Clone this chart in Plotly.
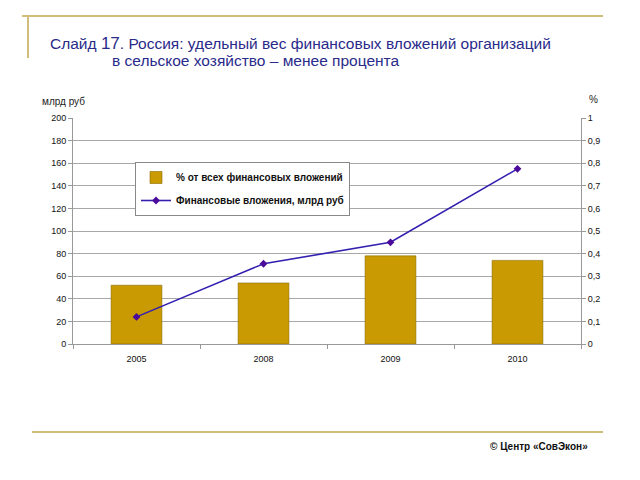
import plotly.graph_objects as go

years = ["2005", "2008", "2009", "2010"]
share_pct = [0.26, 0.27, 0.39, 0.37]          # % от всех финансовых вложений (right axis)
invest_bln = [24, 71, 90, 155]                 # Финансовые вложения, млрд руб (left axis)
left_ticks = [0, 20, 40, 60, 80, 100, 120, 140, 160, 180, 200]
right_ticks = [0, 0.1, 0.2, 0.3, 0.4, 0.5, 0.6, 0.7, 0.8, 0.9, 1]
right_labels = ["0", "0,1", "0,2", "0,3", "0,4", "0,5", "0,6", "0,7", "0,8", "0,9", "1"]

OFF = 8  # page body margin
FW, FH = 640 - OFF, 480 - OFF
L, R, T, B = 73 - OFF, 581 - OFF, 118 - OFF, 344 - OFF
W, H = R - L, B - T
def px(x): return (x - OFF - L) / W
def py(y): return (B - (y - OFF)) / H

fig = go.Figure()
fig.add_trace(go.Bar(
    x=years, y=share_pct, yaxis="y", name="% от всех финансовых вложений",
    marker=dict(color="#c99a02", line=dict(color="#8a6a00", width=0.6)),
    width=0.4, legendgroup="a",
))
fig.add_trace(go.Scatter(
    x=years, y=invest_bln, yaxis="y2", name="Финансовые вложения, млрд руб",
    mode="lines+markers", line=dict(color="#3320b0", width=1.6),
    marker=dict(symbol="diamond", size=6, color="#4a0a9a"), legendgroup="b",
))

gold = "#d2bd7a"
shapes = [
    dict(type="line", xref="paper", yref="paper", x0=px(22), x1=px(603), y0=py(16), y1=py(16),
         line=dict(color=gold, width=2)),
    dict(type="line", xref="paper", yref="paper", x0=px(28), x1=px(28), y0=py(16), y1=py(58),
         line=dict(color=gold, width=2)),
    dict(type="line", xref="paper", yref="paper", x0=px(32), x1=px(603), y0=py(432), y1=py(432),
         line=dict(color=gold, width=2)),
]

title_color = "#2a2a8a"
annotations = [
    dict(text="Слайд <span style='font-size:17px'>17</span>. Россия: удельный вес финансовых вложений организаций",
         xref="paper", yref="paper", x=px(48), y=py(43), xanchor="left", yanchor="middle",
         showarrow=False, font=dict(family="Liberation Sans, Arial", size=15.5, color=title_color)),
    dict(text="в сельское хозяйство – менее процента",
         xref="paper", yref="paper", x=px(110), y=py(61), xanchor="left", yanchor="middle",
         showarrow=False, font=dict(family="Liberation Sans, Arial", size=15.5, color=title_color)),
    dict(text="млрд руб", xref="paper", yref="paper", x=px(40), y=py(101), xanchor="left",
         yanchor="middle", showarrow=False, font=dict(family="Liberation Sans, Arial", size=10, color="#222")),
    dict(text="%", xref="paper", yref="paper", x=px(587), y=py(99), xanchor="left",
         yanchor="middle", showarrow=False, font=dict(family="Liberation Sans, Arial", size=10, color="#222")),
    dict(text="<b>© Центр «СовЭкон»</b>", xref="paper", yref="paper", x=px(590), y=py(446),
         xanchor="right", yanchor="middle", showarrow=False,
         font=dict(family="Liberation Sans, Arial", size=10, color="#111")),
]

fig.update_layout(
    width=FW, height=FH,
    margin=dict(l=L, r=FW - R, t=T, b=FH - B, pad=0),
    paper_bgcolor="white", plot_bgcolor="white",
    font=dict(family="Liberation Sans, Arial", size=9, color="#111"),
    shapes=shapes, annotations=annotations,
    xaxis=dict(type="category", showgrid=False, showline=True, linecolor="#999", linewidth=1,
               ticks="outside", tickson="boundaries", ticklen=4, tickcolor="#999",
               ticklabelstandoff=6, tickfont=dict(size=9), zeroline=False),
    yaxis=dict(range=[0, 1], tickvals=right_ticks, ticktext=right_labels, side="right",
               showgrid=False, showline=True, linecolor="#999", ticks="outside", ticklen=4,
               tickcolor="#999", tickfont=dict(size=9), zeroline=False),
    yaxis2=dict(range=[0, 200], tickvals=left_ticks, overlaying="y", side="left",
                showgrid=True, gridcolor="#a8a8a8", gridwidth=1,
                showline=True, linecolor="#999", ticks="outside", ticklen=4, tickcolor="#999",
                tickfont=dict(size=9), zeroline=False),
    legend=dict(x=px(135), y=py(162), xanchor="left", yanchor="top", bgcolor="white",
                bordercolor="#888", borderwidth=1, traceorder="grouped", tracegroupgap=4,
                font=dict(size=10, color="#111", family="Liberation Sans, Arial", weight="bold"),
                itemwidth=30),
    showlegend=True,
)

fig.write_html("out.html")
